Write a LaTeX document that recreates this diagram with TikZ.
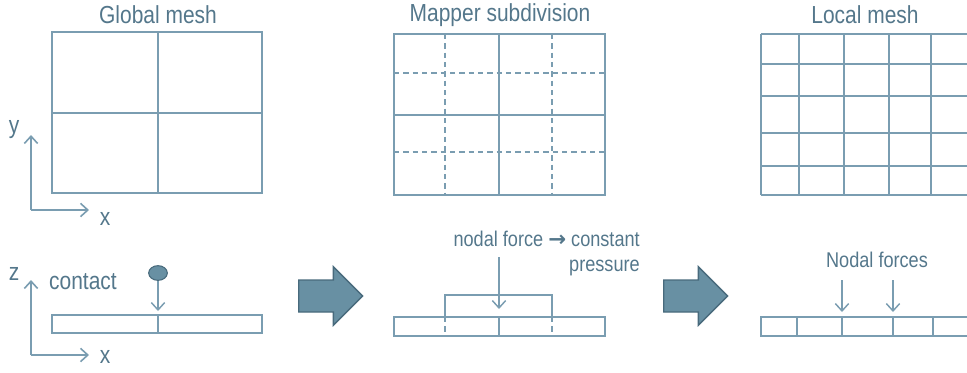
\documentclass[tikz,border=0pt]{standalone}
\usepackage{fontspec}
\setmainfont{Liberation Sans}[FakeStretch=0.85]
\newfontfamily\symfont{DejaVu Sans}
\usepackage{tikz}
\usetikzlibrary{arrows.meta, positioning, shapes.arrows, shapes.geometric}
\definecolor{meshblue}{RGB}{122,157,177}
\definecolor{labelblue}{RGB}{84,119,139}
\definecolor{arrowfill}{RGB}{104,144,163}
\definecolor{arrowedge}{RGB}{72,106,124}

\begin{document}
\begin{tikzpicture}[
    x=0.75pt, y=-0.75pt,  % one unit = one pixel of the reference
    mesh/.style={draw=meshblue, line width=1pt},
    submesh/.style={mesh, dash pattern=on 4pt off 3pt},
    title/.style={text=labelblue, font=\fontsize{18.5}{21}\selectfont},
    label/.style={text=labelblue, font=\fontsize{16}{18.5}\selectfont, inner sep=0pt},
    axis/.style={-{Straight Barb[length=5.5pt,width=10pt]}, meshblue, line width=1.2pt},
    force/.style={-{Straight Barb[length=5.5pt,width=10pt]}, meshblue, line width=1.1pt},
    bigarrow/.style={single arrow, draw=arrowedge, fill=arrowfill, line width=1pt,
                     minimum height=48pt, inner xsep=0pt, inner ysep=11.5pt,
                     single arrow head extend=10pt, single arrow tip angle=90,
                     anchor=tail}
]
\useasboundingbox (0,0) rectangle (967,372);

% titles
\node[title] (globtitle) at (158,15) {Global mesh};
\node[title] (maptitle) at (500,15) {Mapper subdivision};
\node[title] (loctitle) at (865,15) {Local mesh};

% global mesh
\draw[mesh] (52,32) rectangle (262,193);
\draw[mesh] (158,32) -- (158,193) (52,113) -- (262,113);

% mapper subdivision
\draw[submesh] (445,34) -- (445,195) (552,34) -- (552,195)
               (394,73) -- (605,73) (394,152) -- (605,152);
\draw[mesh] (394,34) rectangle (605,195);
\draw[mesh] (499,34) -- (499,195) (394,115) -- (605,115);

% local mesh
\foreach \yy in {34,64,96,133,166,195}
    \draw[mesh] (761,\yy) -- (967,\yy);
\foreach \xx in {761,799,844,889,931}
    \draw[mesh] (\xx,34) -- (\xx,195);

% axes
\coordinate (xyorig) at (31,210);
\coordinate (xyy) at (31,135);
\coordinate (xyx) at (89,210);
\draw[axis] (xyorig) -- (xyy);
\draw[axis] (xyorig) -- (xyx);
\node[title] (ylab) at (14,130) {y};
\node[title] (xlab1) at (105,219) {x};

\coordinate (xzorig) at (31,355);
\coordinate (xzz) at (31,280);
\coordinate (xzx) at (89,355);
\draw[axis] (xzorig) -- (xzz);
\draw[axis] (xzorig) -- (xzx);
\node[title] (zlab) at (14,274) {z};
\node[title] (xlab2) at (105,357) {x};

% global contact
\node[title] (contact) at (83,282) {contact};
\draw[mesh] (52,315) rectangle (262,333);
\draw[mesh] (158,315) -- (158,333);
\node[ellipse, draw=arrowedge, fill=arrowfill, line width=0.8pt, inner sep=0pt,
      minimum width=14pt, minimum height=11pt] (probe) at (158,273) {};
\coordinate (hitglob) at (158,311);
\draw[force] (probe) -- (hitglob);

% big arrows
\node[bigarrow] (stepA) at (298,296) {};
\node[bigarrow, minimum height=48pt] (stepB) at (663,296) {};

% mapper pressure
\draw[mesh] (394,317) rectangle (605,336);
\draw[mesh] (499,317) -- (499,336);
\draw[submesh] (445,317) -- (445,336) (552,317) -- (552,336);
\draw[mesh] (445,317) -- (445,295) -- (552,295) -- (552,317);
\node[label, align=right, anchor=north east] (pressnote) at (640,231)
     {nodal force {\symfont\bfseries →} constant\\pressure};
\coordinate (presstop) at (499,257);
\coordinate (presshit) at (499,309);
\draw[force] (presstop) -- (presshit);

% local nodal forces
\draw[mesh] (967,317) -- (761,317) -- (761,336) -- (967,336);
\foreach \xx in {797,842,893,933}
    \draw[mesh] (\xx,317) -- (\xx,336);
\node[label] (nodalnote) at (877,260) {Nodal forces};
\coordinate (forceA) at (842,280);
\coordinate (forceAhit) at (842,312);
\coordinate (forceB) at (893,280);
\coordinate (forceBhit) at (893,312);
\draw[force] (forceA) -- (forceAhit);
\draw[force] (forceB) -- (forceBhit);

\end{tikzpicture}
\end{document}
